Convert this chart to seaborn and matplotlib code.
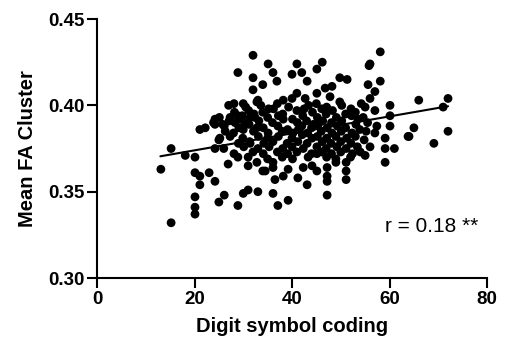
import matplotlib
matplotlib.use('Agg')
import matplotlib.pyplot as plt
import seaborn as sns

# ── values ─────────────────────────────────────────────────────────────────
# sparse points above the main band
upper_x = [32.0, 35.1, 28.9, 36.1, 36.9, 32.0, 34.0, 32.0, 40.0, 41.0, 42.0, 33.0,
           28.1, 30.0, 28.9, 27.3, 24.2, 24.2, 25.8, 21.1, 28.3, 29.3, 30.0, 26.3,
           25.2, 31.4, 32.4, 32.8, 27.3, 15.2, 31.4,
           46.2, 45.1, 43.1, 49.8, 51.3, 55.8, 41.0, 45.1, 46.8, 48.2, 38.2, 40.0,
           42.7, 47.8, 49.8, 32.8, 55.6,
           58.1, 56.0, 58.1, 57.0, 56.0, 60.1, 66.0, 72.0, 71.0, 60.1, 60.1, 65.0,
           64.0, 72.0, 69.1, 59.1, 59.1, 61.0, 59.1, 57.0, 55.0, 54.6, 55.5, 55.2,
           54.8, 56.0, 55.0, 63.8]
upper_y = [0.429, 0.424, 0.419, 0.419, 0.414, 0.416, 0.412, 0.409, 0.418, 0.424, 0.419, 0.403,
           0.401, 0.401, 0.394, 0.393, 0.392, 0.389, 0.389, 0.386, 0.390, 0.392, 0.386, 0.385,
           0.381, 0.393, 0.393, 0.387, 0.382, 0.375, 0.378,
           0.425, 0.421, 0.414, 0.416, 0.415, 0.423, 0.407, 0.407, 0.410, 0.411, 0.403, 0.404,
           0.404, 0.405, 0.402, 0.402, 0.412,
           0.431, 0.424, 0.414, 0.408, 0.404, 0.400, 0.403, 0.404, 0.399, 0.394, 0.388, 0.387,
           0.382, 0.385, 0.378, 0.381, 0.375, 0.375, 0.367, 0.397, 0.399, 0.393, 0.390, 0.385,
           0.380, 0.376, 0.371, 0.382]

# sparse points below the main band
lower_x = [13.1, 18.1, 20.1, 24.2, 25.0, 26.9, 28.9, 31.0, 31.0, 32.8, 20.1, 21.1,
           21.1, 23.0, 24.2, 20.1, 20.1, 20.1, 15.2, 26.1, 25.0, 28.9, 30.0, 31.0,
           33.0, 36.1, 37.1, 39.2, 47.2, 43.1, 51.1, 47.2, 47.2, 45.1, 41.2, 36.5,
           38.2, 34.5, 36.1, 42.3, 44.1, 49.0, 51.1, 51.1, 39.2, 47.2, 43.3, 45.1,
           54.0, 34.0, 36.1]
lower_y = [0.363, 0.371, 0.370, 0.375, 0.380, 0.366, 0.370, 0.370, 0.365, 0.367, 0.361, 0.359,
           0.354, 0.361, 0.356, 0.347, 0.341, 0.337, 0.332, 0.348, 0.344, 0.342, 0.349, 0.351,
           0.350, 0.349, 0.342, 0.345, 0.348, 0.354, 0.357, 0.359, 0.356, 0.362, 0.358, 0.357,
           0.359, 0.362, 0.364, 0.364, 0.365, 0.367, 0.367, 0.362, 0.363, 0.364, 0.370, 0.372,
           0.373, 0.362, 0.367]

# dense central band
band_x = [27.0, 30.5, 33.6, 35.2, 37.0, 39.3, 43.4, 45.0, 47.1, 50.2, 52.1, 54.2,
          28.2, 31.1, 34.0, 36.2, 38.1, 41.0, 44.2, 46.1, 48.3, 51.0, 53.0, 42.5,
          25.1, 29.8, 32.2, 35.0, 37.2, 40.1, 42.2, 45.2, 47.0, 49.1, 52.2, 53.5,
          23.9, 27.1, 30.3, 33.2, 36.0, 38.2, 41.1, 43.0, 44.4, 46.3, 48.1, 50.2, 53.1,
          22.2, 26.1, 29.1, 31.2, 34.1, 37.1, 39.1, 42.0, 44.0, 45.4, 47.2, 49.3, 51.0, 57.4,
          28.0, 32.1, 35.1, 38.0, 40.2, 41.3, 43.2, 46.0, 48.2, 50.1, 52.3, 53.9, 57.0,
          29.9, 33.1, 35.0, 37.2, 40.0, 42.1, 44.1, 45.2, 47.1, 49.0, 51.2, 53.0,
          29.0, 31.3, 34.2, 36.1, 39.0, 41.2, 43.1, 46.2, 48.0, 50.0, 52.1,
          26.0, 30.1, 33.0, 35.3, 38.1, 40.0, 42.3, 45.1, 47.0, 49.2, 51.1, 53.4,
          28.1, 32.0, 34.1, 37.0, 39.1, 41.0, 44.0, 46.1, 48.1, 50.0, 52.4,
          35.0, 38.0, 40.1, 47.1, 49.0, 52.0]
band_y = [0.400, 0.399, 0.400, 0.398, 0.401, 0.399, 0.400, 0.401, 0.399, 0.400, 0.398, 0.401,
          0.396, 0.397, 0.396, 0.398, 0.395, 0.397, 0.396, 0.398, 0.397, 0.395, 0.396, 0.398,
          0.393, 0.394, 0.395, 0.393, 0.394, 0.392, 0.394, 0.393, 0.395, 0.393, 0.394, 0.392,
          0.390, 0.391, 0.390, 0.391, 0.390, 0.392, 0.390, 0.391, 0.389, 0.391, 0.390, 0.391, 0.389,
          0.387, 0.388, 0.387, 0.389, 0.387, 0.388, 0.386, 0.388, 0.387, 0.389, 0.387, 0.388, 0.387, 0.388,
          0.384, 0.385, 0.384, 0.385, 0.384, 0.386, 0.384, 0.385, 0.384, 0.385, 0.384, 0.386, 0.384,
          0.381, 0.382, 0.381, 0.382, 0.381, 0.383, 0.381, 0.382, 0.381, 0.382, 0.381, 0.382,
          0.378, 0.379, 0.378, 0.379, 0.378, 0.379, 0.378, 0.379, 0.378, 0.379, 0.378,
          0.375, 0.376, 0.375, 0.376, 0.375, 0.376, 0.375, 0.376, 0.375, 0.376, 0.375, 0.376,
          0.372, 0.373, 0.372, 0.373, 0.372, 0.373, 0.372, 0.373, 0.372, 0.373, 0.372,
          0.369, 0.370, 0.369, 0.370, 0.369, 0.370]

fit_x = [13.0, 72.0]
fit_y = [0.3705, 0.3995]

x_ticks = [0, 20, 40, 60, 80]
y_ticks = [0.30, 0.35, 0.40, 0.45]
r_label = 'r = 0.18 **'

assert len(upper_x) == len(upper_y)
assert len(lower_x) == len(lower_y)
assert len(band_x) == len(band_y)

dig = upper_x + lower_x + band_x
fa = upper_y + lower_y + band_y

# ── style ───────────────────────────────────────────────────────────────────
sns.set_theme(style='ticks')
plt.rcParams['font.family'] = ['Liberation Sans', 'DejaVu Sans']
plt.rcParams['text.color'] = 'black'
plt.rcParams['axes.labelcolor'] = 'black'

fig = plt.figure(figsize=(5.06, 3.46), dpi=100)
ax = fig.add_axes([0.1917, 0.1965, 0.7708, 0.7485])

sns.scatterplot(x=dig, y=fa, ax=ax, color='black', s=40,
                edgecolor='none', linewidth=0, legend=False, clip_on=False)
ax.plot(fit_x, fit_y, color='black', linewidth=1.5)

ax.set_xlim(0, 80)
ax.set_ylim(0.30, 0.45)
ax.set_xticks(x_ticks)
ax.set_yticks(y_ticks)
ax.set_yticklabels([f'{v:.2f}' for v in y_ticks])

for side in ['top', 'right']:
    ax.spines[side].set_visible(False)
for side in ['left', 'bottom']:
    ax.spines[side].set_linewidth(1.5)
    ax.spines[side].set_color('black')

ax.tick_params(axis='both', direction='out', length=7, width=1.5,
               colors='black', labelcolor='black', labelsize=13.5, pad=2)
for lab in ax.get_xticklabels() + ax.get_yticklabels():
    lab.set_fontweight('bold')

ax.set_xlabel('Digit symbol coding', fontsize=14.5, fontweight='bold',
              labelpad=7, color='black')
ax.set_ylabel('Mean FA Cluster', fontsize=14.5, fontweight='bold',
              labelpad=8, color='black')

ax.text(59, 0.330, r_label, fontsize=15, va='center', ha='left', color='black')

fig.savefig('out.png', dpi=100)
plt.close(fig)
